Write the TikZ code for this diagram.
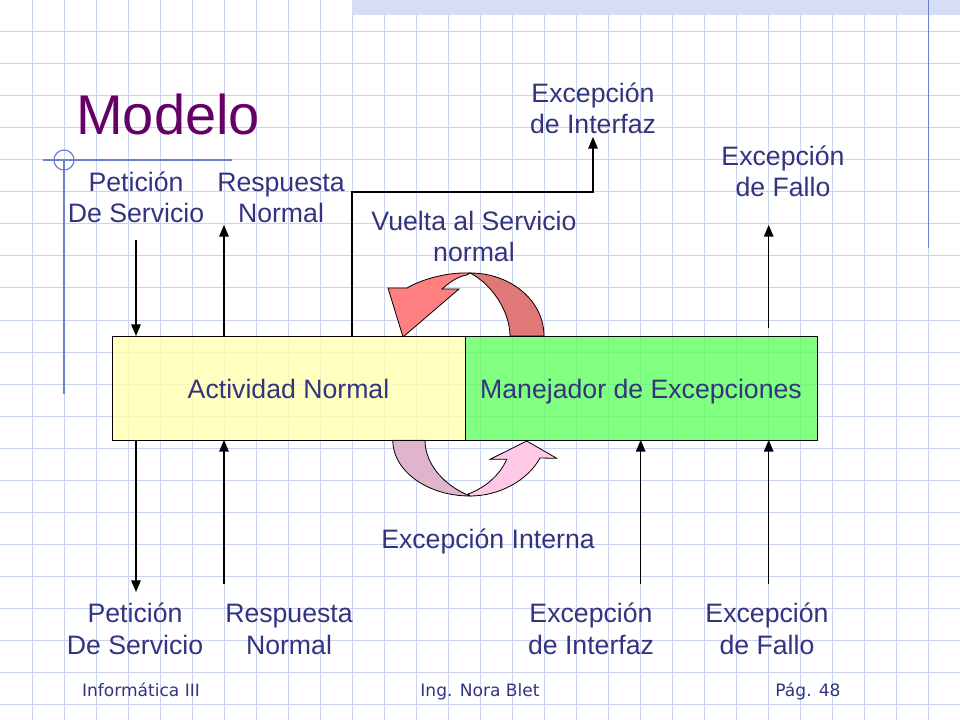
\documentclass[tikz,border=0pt]{standalone}
\usepackage{fontspec}
\setmainfont{Liberation Sans}
\newfontfamily\footfont{DejaVu Sans}
\usepackage{tikz}
\usetikzlibrary{arrows,positioning}

\definecolor{txtblue}{RGB}{51,51,128}
\definecolor{titlepurple}{RGB}{102,0,102}
\definecolor{gridblue}{RGB}{200,212,240}
\definecolor{decoblue}{RGB}{112,128,208}
\definecolor{stripblue}{RGB}{214,222,246}
\definecolor{actyellow}{RGB}{255,255,176}
\definecolor{mangreen}{RGB}{96,255,96}
\definecolor{backred}{RGB}{224,120,120}
\definecolor{frontred}{RGB}{255,128,128}
\definecolor{backpink}{RGB}{224,180,204}
\definecolor{frontpink}{RGB}{255,200,230}

\begin{document}
\begin{tikzpicture}[x=0.75pt,y=-0.75pt,>=triangle 45,
                    gridline/.style={gridblue,line width=0.75pt},
                    deco/.style={decoblue,line width=0.9pt},
                    lbl/.style={align=center,text=txtblue,inner sep=0pt,anchor=base,
                                font=\fontsize{20}{23.4}\selectfont},
                    foot/.style={text=txtblue,inner sep=0pt,anchor=base,
                                 font=\footfont\fontsize{12.8}{15}\selectfont},
                    box node/.style={draw=black,line width=0.75pt,inner sep=0pt,outer sep=0pt,
                                     minimum height=78pt,fill opacity=0.8,text opacity=1,
                                     text height=18pt,text depth=3pt,
                                     text=txtblue,font=\fontsize{20}{24}\selectfont},
                    link/.style={->,black,line width=1pt},
                    turn/.style={draw=black,line width=0.6pt}]

  \useasboundingbox (0,0) rectangle (960,720);

  % background grid
  \foreach \x in {32,64,...,928}
    \draw[gridline] (\x,0) -- (\x,720);
  \foreach \y in {32,64,...,704}
    \draw[gridline] (0,\y) -- (960,\y);
  \fill[stripblue] (352,0) rectangle (960,15);
  \draw[deco] (43,160) -- (232,160);
  \draw[deco] (64,160) circle (10);
  \draw[deco] (64,160) -- (64,394);
  \draw[deco] (928.7,0) -- (928.7,248);

  \node[anchor=base west,inner sep=0pt,text=titlepurple,font=\fontsize{42}{48}\selectfont]
    (title) at (76,135) {Modelo};

  % curved arrows
  \draw[turn,fill=backred] (544,336) .. controls (544,301) and (511,273) .. (470,273)
    .. controls (492,284) and (510,312) .. (510,336) -- cycle;
  \draw[turn,fill=frontred] (470,273) .. controls (448,272) and (422,279) .. (407,288)
    -- (388,288) -- (403,337) -- (459,289) -- (442,289)
    .. controls (452,280) and (460,276) .. (467,275) -- cycle;
  \draw[turn,fill=backpink] (392.7,440) .. controls (392.7,471) and (427.5,496) .. (470,496)
    .. controls (445,486) and (425,465) .. (425,440) -- cycle;
  \draw[turn,fill=frontpink] (470,496) .. controls (500,496) and (528,480) .. (540,458)
    -- (556.7,458.3) -- (526.7,441) -- (490,459.3) -- (506.7,459.3)
    .. controls (500,475) and (485,488) .. (468,494) -- cycle;

  % boxes
  \node[box node,fill=actyellow,minimum width=264.75pt] (act) at (288.5,388) {Actividad Normal};
  \node[box node,fill=mangreen,minimum width=264pt,right=0pt of act] (man) {Manejador de Excepciones};

  % labels (base = last line)
  \node[lbl] (reqTop) at (136,223) {Petición\\De Servicio};
  \node[lbl] (respTop) at (281,223) {Respuesta\\Normal};
  \node[lbl] (vuelta) at (474,262) {Vuelta al Servicio\\normal};
  \node[lbl] (intTop) at (593,134) {Excepción\\de Interfaz};
  \node[lbl] (falTop) at (783,197) {Excepción\\de Fallo};
  \node[lbl] (interna) at (488,548) {Excepción Interna};
  \node[lbl] (reqBot) at (135,654) {Petición\\De Servicio};
  \node[lbl] (respBot) at (289,654) {Respuesta\\Normal};
  \node[lbl] (intBot) at (591,654) {Excepción\\de Interfaz};
  \node[lbl] (falBot) at (767,654) {Excepción\\de Fallo};

  \node[foot] (curso) at (141,696) {Informática III};
  \node[foot] (autor) at (480,696) {Ing. Nora Blet};
  \node[foot] (pag) at (808,696) {Pág. 48};

  % connectors
  \coordinate (reqTopEnd) at (136,240);
  \coordinate (respTopEnd) at (224,225);
  \coordinate (intFoot) at (352,0);
  \coordinate (intBend) at (593,192);
  \coordinate (intTopEnd) at (593,137);
  \coordinate (falTopFoot) at (768.7,328);
  \coordinate (falTopEnd) at (768.7,225);
  \coordinate (reqBotEnd) at (136,592);
  \coordinate (respBotFoot) at (224,584);
  \coordinate (intBotFoot) at (640.7,584);
  \coordinate (falBotFoot) at (768.7,584);

  \draw[link] (reqTopEnd) -- (reqTopEnd |- act.north);
  \draw[link] (respTopEnd |- act.north) -- (respTopEnd);
  \draw[link] (intFoot |- act.north) |- (intBend) -- (intTopEnd);
  \draw[link] (falTopFoot) -- (falTopEnd);
  \draw[link] (reqBotEnd |- act.south) -- (reqBotEnd);
  \draw[link] (respBotFoot) -- (respBotFoot |- act.south);
  \draw[link] (intBotFoot) -- (intBotFoot |- man.south);
  \draw[link] (falBotFoot) -- (falBotFoot |- man.south);
\end{tikzpicture}
\end{document}
